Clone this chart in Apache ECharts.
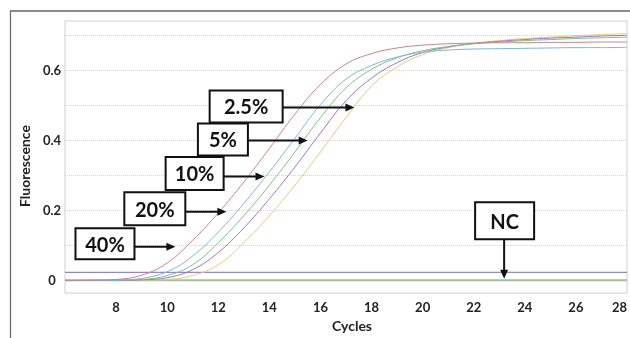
<!DOCTYPE html>
<html>
<head>
<meta charset="utf-8">
<script src="https://cdn.jsdelivr.net/npm/echarts@6/dist/echarts.min.js"></script>
<style>
html,body{margin:0;padding:0;background:#fff;}
#c{width:630px;height:338px;}
</style>
</head>
<body>
<div id="c"></div>
<script>
// ---- data ----
const cycles = [6,7,8,9,10,11,12,13,14,15,16,17,18,19,20,21,22,23,24,25,26,27,28];
const red    = [0.000,0.001,0.003,0.015,0.050,0.115,0.193,0.281,0.377,0.475,0.560,0.618,0.648,0.664,0.672,0.676,0.678,0.679,0.679,0.680,0.680,0.681,0.681];
const blue   = [0.000,0.000,0.001,0.006,0.025,0.070,0.138,0.220,0.310,0.406,0.502,0.575,0.614,0.638,0.652,0.658,0.661,0.662,0.663,0.664,0.665,0.665,0.666];
const green  = [0.000,0.000,0.001,0.003,0.014,0.045,0.108,0.185,0.272,0.367,0.465,0.550,0.603,0.636,0.656,0.668,0.676,0.681,0.685,0.688,0.691,0.693,0.695];
const purple = [0.000,0.000,0.000,0.002,0.008,0.031,0.080,0.150,0.233,0.324,0.421,0.513,0.578,0.622,0.651,0.667,0.677,0.683,0.688,0.692,0.695,0.698,0.700];
const yellow = [0.000,0.000,0.000,0.001,0.003,0.014,0.045,0.108,0.185,0.272,0.367,0.465,0.555,0.610,0.645,0.665,0.677,0.685,0.691,0.695,0.699,0.702,0.705];
const ncHigh = [0.023,0.023,0.023,0.023,0.023,0.023,0.023,0.023,0.023,0.023,0.023,0.023,0.023,0.023,0.023,0.023,0.023,0.023,0.023,0.023,0.023,0.023,0.023];
const ncLow  = [0.001,0.001,0.001,0.001,0.001,0.001,0.001,0.001,0.001,0.001,0.001,0.001,0.001,0.001,0.001,0.001,0.001,0.001,0.001,0.001,0.001,0.001,0.001];
const yLabelValues = [0, 0.2, 0.4, 0.6];
const yGridValues = [0, 0.1, 0.2, 0.3, 0.4, 0.5, 0.6, 0.7];
// annotations: label, arrow tip [cycle, value], arrow tail [cycle, value]
const annLabels = ['2.5%', '5%', '10%', '20%', '40%', 'NC'];
const annTips  = [[17.33,0.494],[15.5,0.400],[13.81,0.297],[12.32,0.196],[10.32,0.096],[23.19,0.005]];
const annTails = [[14.52,0.494],[13.16,0.400],[12.21,0.297],[10.71,0.196],[8.72,0.096],[23.19,0.118]];

// ---- styles ----
const FONT = 'Lato, "Open Sans", sans-serif';
const annBoxSize = [[73,32],[50,32],[58,33],[61,33],[59,31],[59,37]];
const pairs = arr => cycles.map((c,i)=>[c, arr[i]]);
const curve = (name, arr, color, w) => ({
  name, type:'line', data:pairs(arr), smooth:0.4, symbol:'none',
  lineStyle:{color, width:w||1}, itemStyle:{color}, animation:false, z:3
});

const chart = echarts.init(document.getElementById('c'), null, {renderer:'canvas'});
chart.setOption({
  backgroundColor:'#fff',
  animation:false,
  grid:{left:65, top:21, right:2, bottom:42, show:true, borderColor:'#cfcfcf', borderWidth:1, backgroundColor:'#fff'},
  xAxis:{
    type:'value', min:6, max:28, interval:2,
    name:'Cycles', nameLocation:'middle', nameGap:21,
    nameTextStyle:{fontFamily:FONT, fontWeight:'bold', fontSize:14, color:'#222', padding:[0,0,0,12]},
    axisLine:{show:false}, axisTick:{show:false}, splitLine:{show:false},
    axisLabel:{showMinLabel:false, alignMaxLabel:'right', margin:8, fontFamily:FONT, fontWeight:'bold', fontSize:13, color:'#222'}
  },
  yAxis:{
    type:'value', min:-0.036, max:0.741,
    name:'Fluorescence', nameLocation:'middle', nameGap:32, nameRotate:90,
    nameTextStyle:{fontFamily:FONT, fontWeight:'bold', fontSize:14, color:'#222', padding:[0,18,0,0]},
    axisLine:{show:false},
    axisTick:{show:false, customValues:yGridValues},
    axisLabel:{customValues:yLabelValues, align:'center', margin:13, fontFamily:FONT, fontWeight:'bold', fontSize:13, color:'#222',
      formatter: v => String(+(+v).toFixed(1))},
    splitLine:{show:true, lineStyle:{type:'dotted', color:'#d4d4d4', width:1}}
  },
  series:[
    curve('NC low', ncLow, '#a9bda3', 2),
    curve('NC high', ncHigh, '#8e88c8', 1.3),
    curve('40%', yellow, '#e3cb7e'),
    curve('20%', purple, '#9c78c0'),
    curve('10%', green, '#7fbf8a'),
    curve('5%', blue, '#80b6d8'),
    curve('2.5%', red, '#c8868c')
  ]
});

// annotation graphics anchored in data coordinates
function buildGraphics(){
  const els = [];
  // outer frame lines
  els.push({type:'line', shape:{x1:10, y1:11, x2:630, y2:11}, style:{stroke:'#8c8c8c', lineWidth:2}, z:10});
  els.push({type:'line', shape:{x1:10.5, y1:11, x2:10.5, y2:338}, style:{stroke:'#666', lineWidth:1.2}, z:10});
  annLabels.forEach((lab, i) => {
    const tip = chart.convertToPixel({gridIndex:0}, annTips[i]);
    const tail = chart.convertToPixel({gridIndex:0}, annTails[i]);
    const vertical = Math.abs(tip[0]-tail[0]) < 1;
    const bw = annBoxSize[i][0], bh = annBoxSize[i][1];
    let bx, by;
    if (vertical){ bx = tail[0] - bw/2 + 0.5; by = tail[1] - bh; }
    else { bx = tail[0] - bw; by = tail[1] - bh/2 - 1 - (i >= 2 ? 2 : 0); }
    els.push({type:'rect', shape:{x:bx, y:by, width:bw, height:bh}, style:{fill:'#fff', stroke:'#111', lineWidth:2}, z:20});
    els.push({type:'text', x:bx+bw/2, y:by+bh/2+1.5, style:{text:lab, fill:'#111', font:'bold 20px ' + FONT, align:'center', verticalAlign:'middle'}, z:21});
    const hl = 9, hw = 4;
    let ex = tip[0], ey = tip[1], head;
    if (vertical){
      head = [[tip[0], tip[1]], [tip[0]-hw, tip[1]-hl], [tip[0]+hw, tip[1]-hl]];
      ey = tip[1]-hl+1;
    } else {
      head = [[tip[0], tip[1]], [tip[0]-hl, tip[1]-hw], [tip[0]-hl, tip[1]+hw]];
      ex = tip[0]-hl+1;
    }
    els.push({type:'line', shape:{x1:tail[0], y1:tail[1], x2:ex, y2:ey}, style:{stroke:'#111', lineWidth:2}, z:19});
    els.push({type:'polygon', shape:{points:head}, style:{fill:'#111'}, z:19});
  });
  chart.setOption({graphic:{elements:els}});
}
buildGraphics();
</script>
</body>
</html>
